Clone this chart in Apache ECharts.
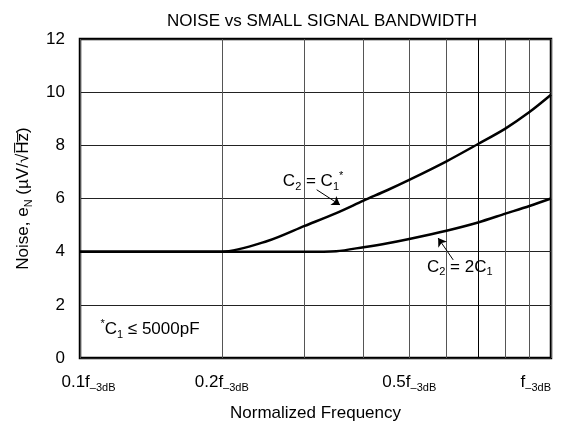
<!DOCTYPE html>
<html><head><meta charset="utf-8">
<script src="https://cdn.jsdelivr.net/npm/echarts@6/dist/echarts.min.js"></script>
<style>html,body{margin:0;padding:0;background:#fff}#c{width:561px;height:427px}</style>
</head><body><div id="c"></div>
<script>
// ---- data ----
const freq = [0.1, 0.18, 0.2, 0.25, 0.3, 0.35, 0.4, 0.45, 0.5, 0.6, 0.7, 0.8, 0.9, 1.0];
const noiseC2eqC1 = [4.0, 4.0, 4.0, 4.4, 4.97, 5.45, 5.92, 6.32, 6.7, 7.4, 8.05, 8.63, 9.25, 9.9];
const noiseC2eq2C1 = [4.0, 4.0, 4.0, 4.0, 4.0, 4.02, 4.17, 4.32, 4.48, 4.79, 5.1, 5.43, 5.72, 6.0];
const gridFreqs = [0.1, 0.2, 0.3, 0.4, 0.5, 0.6, 0.7, 0.8, 0.9, 1.0];
const xLabelFreqs = [0.1, 0.2, 0.5, 1.0];
const xLabelText = ['0.1f', '0.2f', '0.5f', 'f'];
const yMin = 0, yMax = 12, yStep = 2;

const FONT = 'Liberation Sans, Arial, Helvetica, sans-serif';
const FS = 17, SS = 11;
const chart = echarts.init(document.getElementById('c'), null, {renderer: 'canvas'});

function xLabel(v) {
  let i = xLabelFreqs.findIndex(f => Math.abs(f - v) < 1e-6);
  if (i < 0) return '';
  const style = i === 0 ? 'bp' : 'b';
  return '{' + style + '|' + xLabelText[i] + '}{s|\u20133dB}';
}

const annRich = {
  a: {fontSize: FS, lineHeight: 22, color: '#000', fontFamily: FONT},
  s: {fontSize: SS, lineHeight: 11, verticalAlign: 'bottom', color: '#000', fontFamily: FONT},
  u: {fontSize: SS, lineHeight: 11, verticalAlign: 'top', color: '#000', fontFamily: FONT}
};

function toPairs(xs, ys) { return xs.map((x, i) => [x, ys[i]]); }

const vGridColors = gridFreqs.map(f => Math.abs(f - 0.7) < 1e-6 ? '#000' : '#555');

const option = {
  animation: false,
  backgroundColor: '#fff',
  textStyle: {fontFamily: FONT, color: '#000'},
  title: {
    text: 'NOISE vs SMALL SIGNAL BANDWIDTH',
    left: 317, top: 8, textAlign: 'center',
    textStyle: {fontSize: FS, fontWeight: 'normal', color: '#000', fontFamily: FONT}
  },
  grid: {left: 80, right: 10, top: 39, bottom: 69, show: true, borderColor: '#000', borderWidth: 2.5,
         containLabel: false, outerBoundsMode: 'none'},
  xAxis: {
    type: 'log', logBase: 10, min: 0.1, max: 1,
    axisLine: {show: false},
    axisTick: {show: false, customValues: gridFreqs},
    splitLine: {show: true, lineStyle: {color: vGridColors, width: 1}},
    minorSplitLine: {show: false},
    axisLabel: {
      customValues: xLabelFreqs, margin: 13, formatter: xLabel, alignMaxLabel: 'right',
      rich: {
        b: {fontSize: FS, lineHeight: 22, color: '#000', fontFamily: FONT},
        bp: {fontSize: FS, lineHeight: 22, color: '#000', fontFamily: FONT, padding: [0, 0, 0, 17]},
        s: {fontSize: SS, lineHeight: 11, verticalAlign: 'bottom', color: '#000', fontFamily: FONT}
      }
    },
    name: 'Normalized Frequency', nameLocation: 'middle', nameGap: 47,
    nameTextStyle: {fontSize: FS, color: '#000', fontFamily: FONT}
  },
  yAxis: {
    type: 'value', min: yMin, max: yMax, interval: yStep,
    axisLine: {show: false}, axisTick: {show: false},
    splitLine: {show: true, lineStyle: {color: '#222', width: 1}},
    axisLabel: {fontSize: FS, color: '#000', margin: 15, fontFamily: FONT},
    name: 'Noise, e{s|N} (\u00b5V/\u221aH\u0305z\u0305)', nameLocation: 'middle', nameGap: 46, nameRotate: 90,
    nameTextStyle: {fontSize: FS, color: '#000', fontFamily: FONT, lineHeight: 22,
      rich: {
        s: {fontSize: SS, lineHeight: 11, verticalAlign: 'bottom', color: '#000', fontFamily: FONT}
      }}
  },
  series: [
    {
      type: 'line', name: 'C2 = C1*', data: toPairs(freq, noiseC2eqC1),
      smooth: 0.3, showSymbol: false, symbol: 'none',
      lineStyle: {color: '#000', width: 2.5}, z: 5,
      markPoint: {
        symbol: 'rect', symbolSize: 1, itemStyle: {color: 'rgba(0,0,0,0)'}, silent: true,
        label: {show: true, position: 'inside', rich: annRich},
        data: [
          {coord: [0.3125, 6.64], label: {formatter: '{a|C}{s|2}{a| = C}{s|1}{u|*}'}},
          {coord: [0.640, 3.43], label: {formatter: '{a|C}{s|2}{a| = 2C}{s|1}'}},
          {coord: [0.1408, 1.09], label: {formatter: '{u|*}{a|C}{s|1}{a| \u2264 5000pF}'}}
        ]
      },
      markLine: {
        silent: true, symbol: ['none', 'arrow'], symbolSize: 8,
        lineStyle: {color: '#000', width: 1, type: 'solid'}, label: {show: false},
        data: [
          [{coord: [0.318, 6.33]}, {coord: [0.3565, 5.76]}],
          [{coord: [0.62, 3.69]}, {coord: [0.576, 4.51]}]
        ]
      }
    },
    {
      type: 'line', name: 'C2 = 2C1', data: toPairs(freq, noiseC2eq2C1),
      smooth: 0.3, showSymbol: false, symbol: 'none',
      lineStyle: {color: '#000', width: 2.5}, z: 5
    }
  ]
};
chart.setOption(option);
</script></body></html>
